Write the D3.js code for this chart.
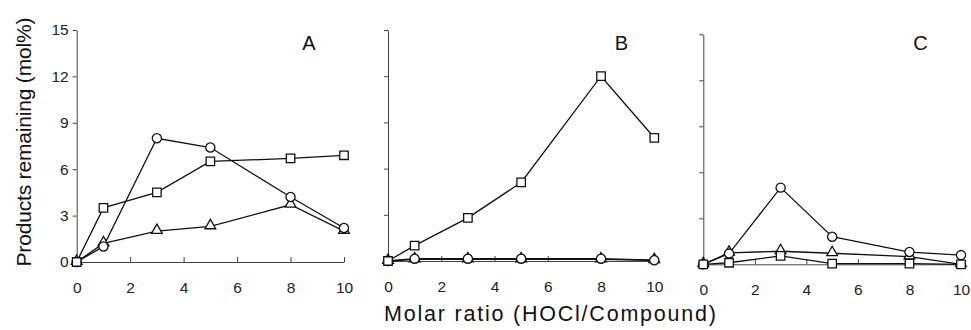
<!DOCTYPE html>
<html><head><meta charset="utf-8">
<script src="https://cdn.jsdelivr.net/npm/d3@7"></script>
<style>
body{margin:0;background:#fff;}
svg{display:block;}
</style></head>
<body>
<svg id="chart" width="971" height="330"></svg>
<script>
// Data
const ratios = [0, 1, 3, 5, 8, 10];
const panelNames = ["A", "B", "C"];
const xTicks = [0, 2, 4, 6, 8, 10];
const yTicks = [0, 3, 6, 9, 12, 15];
const circleA = [0, 1.0, 8.0, 7.4, 4.2, 2.2];
const squareA = [0, 3.5, 4.5, 6.5, 6.7, 6.9];
const triangleA = [0, 1.2, 2.0, 2.3, 3.7, 2.0];
const circleB = [0, 0.15, 0.15, 0.15, 0.15, 0.05];
const squareB = [0, 1.0, 2.8, 5.1, 12.0, 8.0];
const triangleB = [0, 0.1, 0.1, 0.1, 0.1, 0.05];
const circleC = [0, 0.7, 5.0, 1.8, 0.8, 0.6];
const squareC = [0, 0.1, 0.55, 0.05, 0.05, 0];
const triangleC = [0, 0.75, 0.85, 0.72, 0.5, 0];
const yLabel = "Products remaining (mol%)";
const xLabel = "Molar ratio (HOCl/Compound)";

const seriesByPanel = {
  A: {triangle: triangleA, circle: circleA, square: squareA},
  B: {triangle: triangleB, circle: circleB, square: squareB},
  C: {triangle: triangleC, circle: circleC, square: squareC}
};

const layout = {
  A: {x: [76.7, 344], y: [262, 30], labelX: 309, showY: true},
  B: {x: [388, 654.3], y: [261, 30], labelX: 621.5, showY: false},
  C: {x: [703.3, 961], y: [264.3, 34.3], labelX: 920.5, showY: false}
};

const svg = d3.select("#chart");
const font = "'Liberation Sans', Arial, sans-serif";

panelNames.forEach(name => {
  const L = layout[name];
  const x = d3.scaleLinear().domain([0, 10]).range(L.x);
  const y = d3.scaleLinear().domain([0, 15]).range(L.y);
  const g = svg.append("g");

  const xa = g.append("g").attr("transform", `translate(0,${L.y[0]})`)
    .call(d3.axisBottom(x).tickValues(xTicks).tickSizeInner(-5).tickSizeOuter(0).tickPadding(20));
  const ya = g.append("g").attr("transform", `translate(${L.x[0]},0)`)
    .call(d3.axisLeft(y).tickValues(yTicks).tickSizeInner(4).tickSizeOuter(0).tickPadding(4)
      .tickFormat(L.showY ? d3.format("d") : () => ""));
  [xa, ya].forEach(a => {
    a.selectAll("path.domain").attr("stroke", "#444").attr("stroke-width", 1);
    a.selectAll(".tick line").attr("stroke", "#444").attr("stroke-width", 1);
    a.selectAll("text").attr("font-family", font).attr("font-size", 15.5).attr("fill", "#222");
  });

  const line = d3.line().x((d, i) => x(ratios[i])).y(d => y(d));
  const S = seriesByPanel[name];
  ["triangle", "circle", "square"].forEach(key => {
    g.append("path").datum(S[key]).attr("d", line)
      .attr("fill", "none").attr("stroke", "#111").attr("stroke-width", 1.3);
  });
  ["triangle", "circle", "square"].forEach(key => {
    const vals = S[key];
    const sym = key === "circle" ? d3.symbolCircle : key === "square" ? d3.symbolSquare : d3.symbolTriangle;
    const size = key === "circle" ? 66 : key === "square" ? 72 : 50;
    g.selectAll(null).data(vals).join("path")
      .attr("transform", (d, i) => `translate(${x(ratios[i])},${y(d) + (key === "triangle" ? -0.8 : 0)})`)
      .attr("d", d3.symbol().type(sym).size(size))
      .attr("fill", "#fff").attr("stroke", "#111").attr("stroke-width", 1.3);
  });

  g.append("text").attr("x", L.labelX).attr("y", 50)
    .attr("text-anchor", "middle").attr("font-family", font).attr("font-size", 20)
    .attr("fill", "#111").text(name);
});

svg.append("text")
  .attr("transform", "translate(31,142) rotate(-90)")
  .attr("text-anchor", "middle").attr("font-family", font).attr("font-size", 21)
  .attr("fill", "#111").attr("textLength", 249).attr("lengthAdjust", "spacing")
  .text(yLabel);

svg.append("text")
  .attr("x", 550).attr("y", 321)
  .attr("text-anchor", "middle").attr("font-family", font).attr("font-size", 21.5)
  .attr("fill", "#111").attr("textLength", 332).attr("lengthAdjust", "spacing")
  .text(xLabel);
</script>
</body></html>
